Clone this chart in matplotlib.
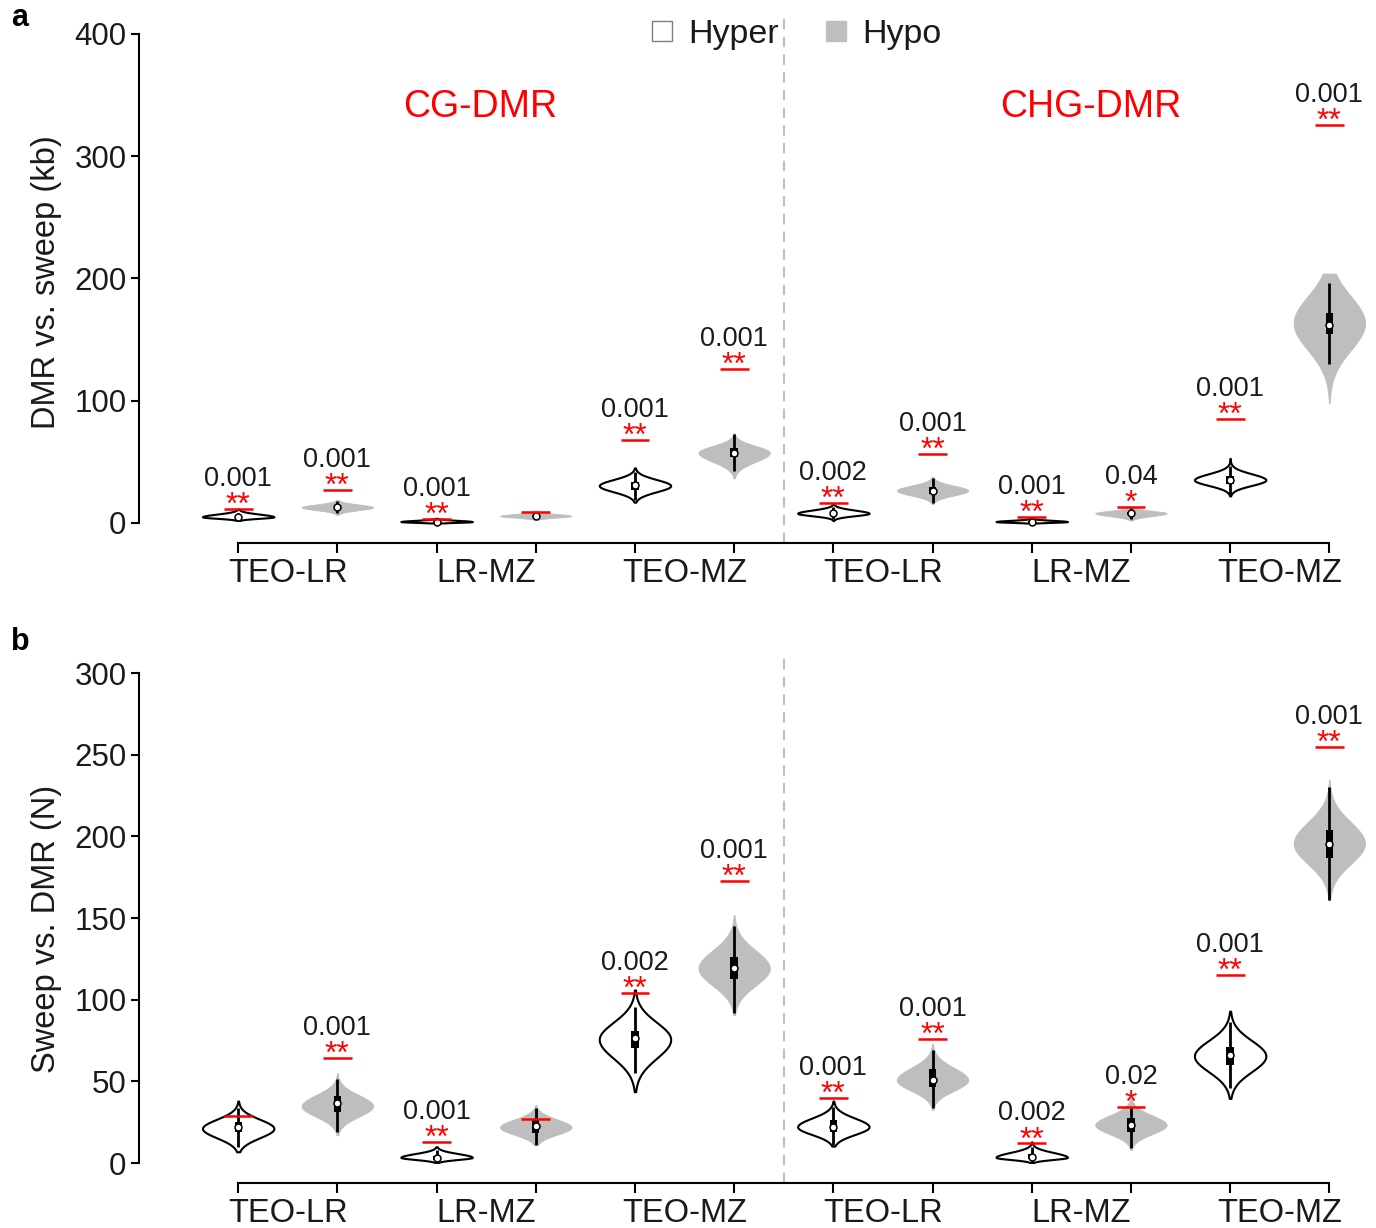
import matplotlib
matplotlib.use('Agg')
import matplotlib.pyplot as plt
from matplotlib.lines import Line2D
from matplotlib.patches import Rectangle
import numpy as np

plt.rcParams['font.family'] = ['Liberation Sans', 'DejaVu Sans']

# x layout: 12 violins, Hyper / Hypo alternating
positions = np.arange(1, 13)
kinds = ['Hyper', 'Hypo'] * 6
group_labels = ['TEO-LR', 'LR-MZ', 'TEO-MZ', 'TEO-LR', 'LR-MZ', 'TEO-MZ']
group_centers = [1.5, 3.5, 5.5, 7.5, 9.5, 11.5]

# ---- panel a: DMR vs. sweep (kb) ----
a_mode = [5.0, 12.8, 1.1, 5.7, 30.5, 57.5, 7.9, 26.5, 1.1, 7.9, 35.2, 163.4]
a_low = [2.0, 6.5, 0.0, 2.4, 17.0, 36.5, 1.9, 15.5, 0.0, 1.9, 22.1, 98.0]
a_high = [11.4, 18.8, 3.8, 10.0, 45.0, 73.4, 16.0, 37.9, 3.8, 13.4, 52.9, 204.0]
a_sd_lo = [1.2, 2.3, 0.6, 1.3, 5.0, 7.5, 2.0, 4.0, 0.6, 2.3, 4.5, 22.0]
a_sd_hi = [2.2, 2.3, 1.0, 1.6, 5.0, 5.5, 2.6, 4.0, 1.0, 2.0, 5.0, 22.0]
a_med = [5.0, 12.8, 1.1, 5.7, 31.0, 57.5, 7.9, 26.5, 1.1, 7.9, 35.2, 162.0]
a_q1 = [4.3, 11.5, 0.6, 5.0, 27.0, 54.2, 6.5, 24.0, 0.6, 6.8, 31.6, 154.6]
a_q3 = [5.8, 14.0, 1.6, 6.5, 33.8, 61.6, 9.0, 29.0, 1.6, 9.0, 38.7, 171.5]
a_wlo = [3.0, 8.0, 0.2, 3.5, 19.0, 42.8, 3.0, 16.0, 0.2, 3.5, 22.9, 130.0]
a_whi = [8.0, 18.0, 3.0, 9.0, 42.0, 72.5, 13.0, 37.0, 3.0, 12.0, 46.3, 196.0]
a_obs = [11.2, 27.0, 3.3, 8.7, 68.0, 125.7, 16.6, 56.2, 4.6, 13.1, 85.0, 325.6]
a_p = ['0.001', '0.001', '0.001', '', '0.001', '0.001', '0.002', '0.001', '0.001', '0.04', '0.001', '0.001']
a_star = ['**', '**', '**', '', '**', '**', '**', '**', '**', '*', '**', '**']

# ---- panel b: Sweep vs. DMR (N) ----
b_mode = [21.2, 34.9, 3.5, 21.9, 75.7, 119.2, 22.2, 50.8, 3.5, 23.3, 65.5, 195.7]
b_low = [6.9, 17.1, 0.4, 11.0, 43.7, 90.6, 10.4, 32.4, 0.4, 8.0, 39.6, 161.0]
b_high = [38.0, 54.9, 10.0, 35.5, 106.0, 151.8, 38.0, 72.9, 13.0, 40.6, 93.0, 234.5]
b_sd_lo = [5.7, 6.5, 1.3, 4.5, 11.5, 10.5, 4.7, 6.5, 1.3, 5.5, 9.5, 12.5]
b_sd_hi = [5.6, 6.7, 2.3, 4.8, 10.5, 11.0, 5.3, 7.5, 3.0, 5.8, 9.5, 13.0]
b_med = [22.2, 36.5, 3.0, 22.4, 76.3, 119.2, 22.2, 50.8, 3.9, 23.3, 66.1, 195.1]
b_q1 = [19.2, 31.4, 2.0, 18.2, 70.6, 112.4, 19.2, 46.7, 2.5, 19.2, 60.0, 186.6]
b_q3 = [25.3, 41.0, 4.5, 26.3, 81.0, 126.3, 26.3, 57.3, 5.5, 27.3, 71.2, 203.9]
b_wlo = [10.0, 19.2, 0.5, 11.0, 54.9, 92.0, 10.8, 33.5, 0.5, 9.0, 45.7, 161.0]
b_whi = [33.7, 51.2, 8.0, 33.7, 95.7, 145.0, 34.3, 69.2, 10.0, 33.7, 86.5, 230.4]
b_obs = [28.8, 64.1, 13.0, 26.7, 103.9, 172.9, 40.0, 75.9, 12.0, 34.1, 115.1, 254.9]
b_p = ['', '0.001', '0.001', '', '0.002', '0.001', '0.001', '0.001', '0.002', '0.02', '0.001', '0.001']
b_star = ['', '**', '**', '', '**', '**', '**', '**', '**', '*', '**', '**']

HYPO_GRAY = '#BEBEBE'
TXT = '#1a1a1a'


# one violin: two half-gaussian profiles cut at low / high
def draw_violin(ax, x, mode, lo, hi, sd_lo, sd_hi, kind, width=0.36):
    y = np.linspace(lo, hi, 300)
    sd = np.where(y < mode, sd_lo, sd_hi)
    w = width * np.exp(-0.5 * ((y - mode) / sd) ** 2)
    if kind == 'Hyper':
        ax.fill_betweenx(y, x - w, x + w, facecolor='white', edgecolor='black',
                         linewidth=1.5, zorder=2)
    else:
        ax.fill_betweenx(y, x - w, x + w, facecolor=HYPO_GRAY, edgecolor=HYPO_GRAY,
                         linewidth=0.6, zorder=2)


def draw_panel(ax, mode, low, high, sd_lo, sd_hi, med, q1, q3, wlo, whi, obs, pvals, stars,
               ymin, ymax, yticks, dash_top):
    for i, x in enumerate(positions):
        draw_violin(ax, x, mode[i], low[i], high[i], sd_lo[i], sd_hi[i], kinds[i])
        # inner box plot
        ax.vlines(x, wlo[i], whi[i], color='black', linewidth=2.0, zorder=3)
        ax.add_patch(Rectangle((x - 0.037, q1[i]), 0.074, q3[i] - q1[i],
                               facecolor='black', edgecolor='none', zorder=3))
        ax.plot(x, med[i], 'o', mfc='white', mec='black', ms=5, mew=1.1, zorder=4)
        # observed value + significance
        ax.hlines(obs[i], x - 0.145, x + 0.145, color='red', linewidth=1.8, zorder=5)
        if stars[i]:
            ax.annotate(stars[i], (x, obs[i]), xytext=(0, -5), textcoords='offset pixels',
                        ha='center', va='baseline', color='red', fontsize=23, zorder=6)
        if pvals[i]:
            ax.annotate(pvals[i], (x, obs[i]), xytext=(0, 23), textcoords='offset pixels',
                        ha='center', va='baseline', color=TXT, fontsize=19.5, zorder=6)

    ax.vlines(6.5, ymin, dash_top, color='#BFBFBF', linewidth=1.5,
              linestyles=(0, (5, 3.5)), zorder=1)

    ax.set_xlim(0, 12.4)
    ax.set_ylim(ymin, ymax)
    for s in ['top', 'right']:
        ax.spines[s].set_visible(False)
    ax.spines['left'].set_bounds(yticks[0], yticks[-1])
    ax.spines['bottom'].set_bounds(1, 12)
    ax.spines['left'].set_linewidth(1.5)
    ax.spines['bottom'].set_linewidth(1.5)
    ax.set_yticks(yticks)
    ax.set_xticks(positions)
    ax.set_xticklabels([''] * len(positions))
    ax.set_xticks(group_centers, minor=True)
    ax.set_xticklabels(group_labels, minor=True)
    ax.tick_params(axis='y', length=6, width=1.5, pad=3, labelsize=22.5, labelcolor=TXT)
    ax.tick_params(axis='x', which='major', length=7.5, width=1.5)
    ax.tick_params(axis='x', which='minor', length=0, pad=11, labelsize=23.5, labelcolor=TXT)
    ax.patch.set_alpha(0)


fig = plt.figure(figsize=(13.76, 12.28), dpi=100)
W, H = 1376.0, 1228.0

# panel a
ax_a = fig.add_axes([139 / W, 1 - 543 / H, 1230 / W, 533.5 / H])
draw_panel(ax_a, a_mode, a_low, a_high, a_sd_lo, a_sd_hi, a_med, a_q1, a_q3, a_wlo, a_whi,
           a_obs, a_p, a_star, -16.4, 420, [0, 100, 200, 300, 400], 415)
ax_a.text(3.44, 340, 'CG-DMR', color='red', fontsize=27, ha='center', va='center')
ax_a.text(9.59, 340, 'CHG-DMR', color='red', fontsize=27, ha='center', va='center')

# panel b
ax_b = fig.add_axes([139 / W, 1 - 1183 / H, 1230 / W, 529.5 / H])
draw_panel(ax_b, b_mode, b_low, b_high, b_sd_lo, b_sd_hi, b_med, b_q1, b_q3, b_wlo, b_whi,
           b_obs, b_p, b_star, -12.2, 312, [0, 50, 100, 150, 200, 250, 300], 310)

fig.text(47 / W, 1 - 282 / H, 'DMR vs. sweep (kb)', rotation=90, ha='center', va='center',
         fontsize=23.5, color=TXT)
fig.text(47 / W, 1 - 929 / H, 'Sweep vs. DMR (N)', rotation=90, ha='center', va='center',
         fontsize=23.5, color=TXT)
fig.text(20 / W, 1 - 18 / H, 'a', fontweight='bold', fontsize=22, ha='center', va='center')
fig.text(20 / W, 1 - 642 / H, 'b', fontweight='bold', fontsize=22, ha='center', va='center')

handles = [Line2D([], [], marker='s', linestyle='none', markersize=14, mfc='white',
                  mec='#7f7f7f', mew=1.0, label='Hyper'),
           Line2D([], [], marker='s', linestyle='none', markersize=14, mfc=HYPO_GRAY,
                  mec=HYPO_GRAY, label='Hypo')]
fig.legend(handles=handles, ncol=2, frameon=False, loc='center',
           bbox_to_anchor=(795 / W, 1 - 34 / H), fontsize=24.5, handlelength=0.8,
           handletextpad=0.35, columnspacing=1.3, labelcolor=TXT)

fig.savefig('out.png', dpi=100)
